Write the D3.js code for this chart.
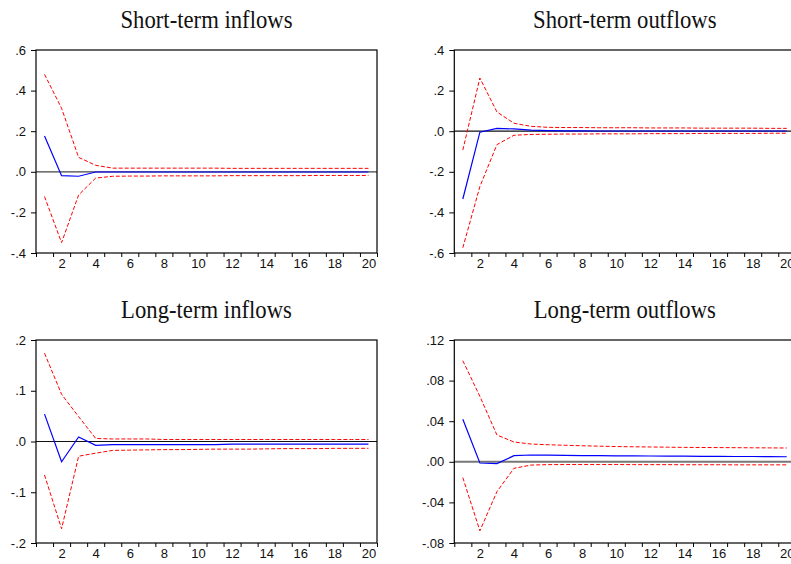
<!DOCTYPE html>
<html><head><meta charset="utf-8">
<script src="https://cdn.jsdelivr.net/npm/d3@7"></script>
<style>body{margin:0;background:#fff;} svg{display:block;}</style>
</head><body>
<svg id="chart" width="791" height="564"></svg>
<script>
const periods = [1,2,3,4,5,6,7,8,9,10,11,12,13,14,15,16,17,18,19,20];
const xTickLabels = [2,4,6,8,10,12,14,16,18,20];
const titles = ["Short-term inflows","Short-term outflows","Long-term inflows","Long-term outflows"];

const resp1 = [0.176,-0.019,-0.022,-0.001,-0.001,-0.001,-0.001,-0.001,-0.001,-0.001,-0.001,-0.001,-0.001,-0.001,-0.001,-0.001,-0.001,-0.001,-0.001,-0.001];
const up1 = [0.480,0.313,0.071,0.032,0.018,0.018,0.018,0.018,0.018,0.018,0.018,0.017,0.017,0.017,0.017,0.017,0.017,0.017,0.017,0.017];
const lo1 = [-0.122,-0.349,-0.114,-0.031,-0.022,-0.021,-0.021,-0.020,-0.020,-0.020,-0.020,-0.019,-0.019,-0.019,-0.019,-0.019,-0.018,-0.018,-0.018,-0.018];
const yTicks1 = [0.6,0.4,0.2,0.0,-0.2,-0.4];
const yLabels1 = [".6",".4",".2",".0","-.2","-.4"];

const resp2 = [-0.334,-0.005,0.014,0.011,0.005,0.003,0.002,0.002,0.001,0.001,0.001,0.001,0.001,0.001,0.001,0.001,0.001,0.001,0.001,0.001];
const up2 = [-0.093,0.262,0.095,0.039,0.024,0.019,0.018,0.018,0.017,0.017,0.017,0.016,0.016,0.016,0.015,0.015,0.015,0.015,0.014,0.014];
const lo2 = [-0.574,-0.273,-0.066,-0.020,-0.016,-0.015,-0.014,-0.014,-0.013,-0.013,-0.013,-0.012,-0.012,-0.012,-0.011,-0.011,-0.011,-0.011,-0.010,-0.010];
const yTicks2 = [0.4,0.2,0.0,-0.2,-0.4,-0.6];
const yLabels2 = [".4",".2",".0","-.2","-.4","-.6"];

const resp3 = [0.054,-0.040,0.009,-0.0075,-0.006,-0.006,-0.006,-0.006,-0.006,-0.006,-0.006,-0.005,-0.005,-0.005,-0.005,-0.005,-0.005,-0.005,-0.005,-0.005];
const up3 = [0.174,0.093,0.049,0.006,0.005,0.005,0.005,0.004,0.004,0.004,0.004,0.004,0.004,0.004,0.004,0.004,0.004,0.004,0.004,0.004];
const lo3 = [-0.066,-0.172,-0.029,-0.023,-0.0175,-0.017,-0.0165,-0.016,-0.016,-0.0155,-0.015,-0.015,-0.015,-0.0145,-0.014,-0.014,-0.014,-0.0135,-0.0135,-0.0134];
const yTicks3 = [0.2,0.1,0.0,-0.1,-0.2];
const yLabels3 = [".2",".1",".0","-.1","-.2"];

const resp4 = [0.042,-0.0012,-0.0018,0.006,0.0067,0.0065,0.0063,0.0061,0.006,0.0059,0.0058,0.0057,0.0056,0.0055,0.0054,0.0053,0.0052,0.0052,0.0051,0.005];
const up4 = [0.0996,0.0645,0.0264,0.0195,0.0175,0.0168,0.0163,0.0158,0.0154,0.0150,0.0148,0.0146,0.0144,0.0142,0.0141,0.0140,0.0139,0.0138,0.0137,0.0136];
const lo4 = [-0.0156,-0.068,-0.0294,-0.0064,-0.0032,-0.0028,-0.0027,-0.0027,-0.0027,-0.0027,-0.0028,-0.0028,-0.0028,-0.0029,-0.0029,-0.0029,-0.003,-0.003,-0.003,-0.003];
const yTicks4 = [0.12,0.08,0.04,0.0,-0.04,-0.08];
const yLabels4 = [".12",".08",".04",".00","-.04","-.08"];

const panels = [
  {title:titles[0], resp:resp1, up:up1, lo:lo1, yt:yTicks1, yl:yLabels1, left:36, top:50, zeroColor:"#444", zeroW:1.2},
  {title:titles[1], resp:resp2, up:up2, lo:lo2, yt:yTicks2, yl:yLabels2, left:454.3, top:50, zeroColor:"#111", zeroW:1.2},
  {title:titles[2], resp:resp3, up:up3, lo:lo3, yt:yTicks3, yl:yLabels3, left:36, top:340, zeroColor:"#111", zeroW:1.2},
  {title:titles[3], resp:resp4, up:up4, lo:lo4, yt:yTicks4, yl:yLabels4, left:454.3, top:340, zeroColor:"#777", zeroW:2}
];
const W = 341, H = 203;
const svg = d3.select("#chart");

panels.forEach(p => {
  const g = svg.append("g").attr("transform", `translate(${p.left},${p.top})`);
  const x = d3.scaleLinear().domain([0.5, 20.5]).range([0, W]);
  const y = d3.scaleLinear().domain([p.yt[p.yt.length-1], p.yt[0]]).range([H, 0]);

  // title
  g.append("text").attr("transform", `translate(${W/2},-22.5) scale(1,1.15)`).attr("text-anchor","middle")
    .attr("font-family","'Liberation Serif','Times New Roman',serif").attr("font-size",22.7)
    .attr("fill","#111").text(p.title);

  // zero line
  g.append("line").attr("x1",0).attr("x2",W).attr("y1",y(0)).attr("y2",y(0))
    .attr("stroke",p.zeroColor).attr("stroke-width",p.zeroW);

  const line = d3.line().x((d,i)=>x(periods[i])).y(d=>y(d));
  g.append("path").datum(p.up).attr("d",line).attr("fill","none").attr("stroke","#ff0000").attr("stroke-width",1).attr("stroke-dasharray","4,2");
  g.append("path").datum(p.lo).attr("d",line).attr("fill","none").attr("stroke","#ff0000").attr("stroke-width",1).attr("stroke-dasharray","4,2");
  g.append("path").datum(p.resp).attr("d",line).attr("fill","none").attr("stroke","#0000ff").attr("stroke-width",1.2);

  // frame
  g.append("rect").attr("x",0).attr("y",0).attr("width",W).attr("height",H)
    .attr("fill","none").attr("stroke","#000").attr("stroke-width",1.2);

  // y axis
  const ya = d3.axisLeft(y).tickValues(p.yt).tickSize(5).tickPadding(5)
    .tickFormat((d,i)=>p.yl[i]);
  const yg = g.append("g").call(ya);
  yg.select(".domain").remove();
  yg.selectAll("text").attr("font-family","'Liberation Sans',Arial,sans-serif").attr("font-size",13).attr("fill","#111");
  yg.selectAll("line").attr("stroke","#000");

  // x axis ticks at band boundaries
  const bounds = [0].concat(periods).map(d=>d+0.5);
  const xa = d3.axisBottom(x).tickValues(bounds).tickSize(4).tickFormat("");
  const xg = g.append("g").attr("transform",`translate(0,${H})`).call(xa);
  xg.select(".domain").remove();
  xg.selectAll("line").attr("stroke","#000");
  const xl = d3.axisBottom(x).tickValues(xTickLabels).tickSize(0).tickPadding(6);
  const xlg = g.append("g").attr("transform",`translate(0,${H})`).call(xl);
  xlg.select(".domain").remove();
  xlg.selectAll("text").attr("font-family","'Liberation Sans',Arial,sans-serif").attr("font-size",13).attr("fill","#111");
});
</script>
</body></html>
